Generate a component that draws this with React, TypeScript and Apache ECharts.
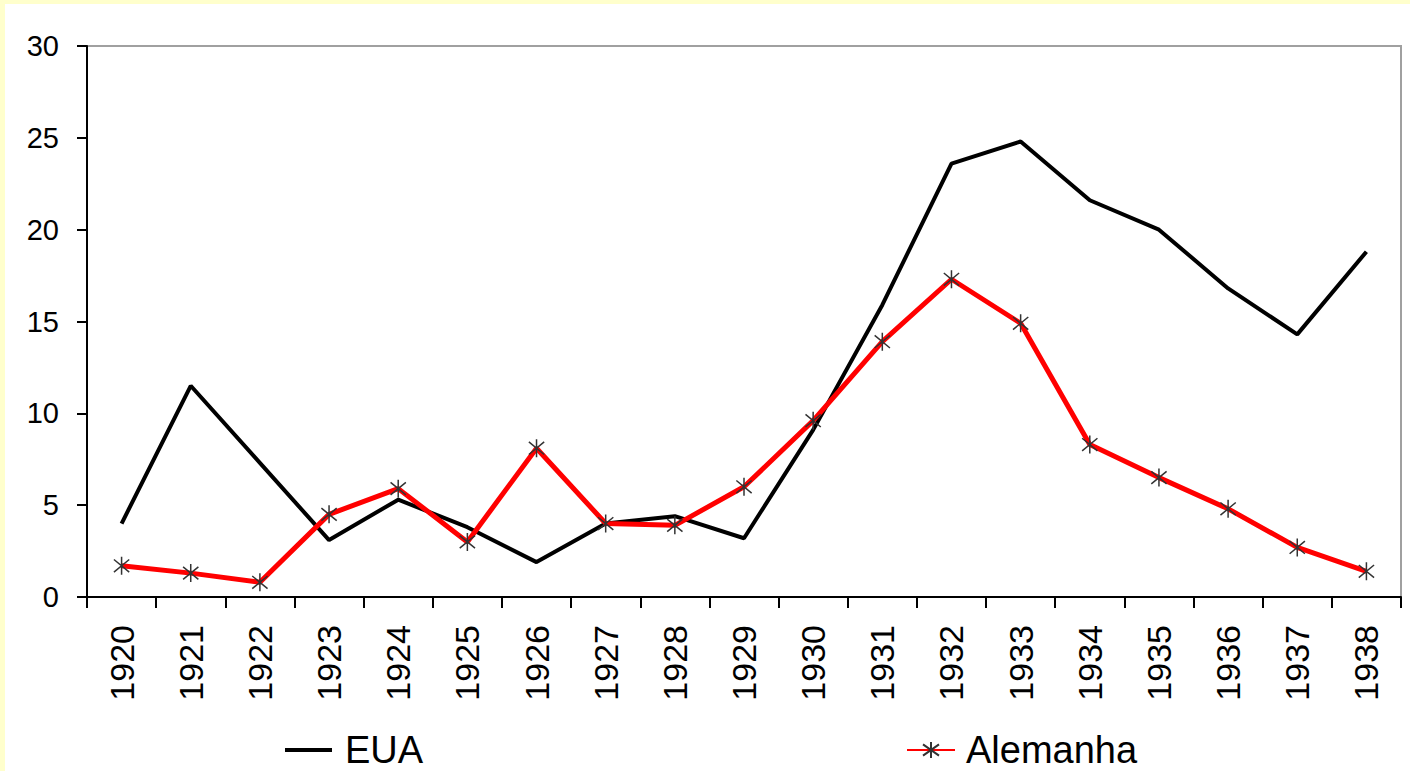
import React, { useEffect, useRef } from "react";
import * as echarts from "echarts";

const years = ["1920","1921","1922","1923","1924","1925","1926","1927","1928","1929","1930","1931","1932","1933","1934","1935","1936","1937","1938"];
const eua = [4.0, 11.5, 7.3, 3.1, 5.3, 3.8, 1.9, 4.0, 4.4, 3.2, 9.1, 15.9, 23.6, 24.8, 21.6, 20.0, 16.8, 14.3, 18.8];
const alemanha = [1.7, 1.3, 0.8, 4.5, 5.9, 3.0, 8.1, 4.0, 3.9, 6.0, 9.6, 13.9, 17.3, 14.9, 8.3, 6.5, 4.8, 2.7, 1.4];
const yTicks = [0, 5, 10, 15, 20, 25, 30];

const star = "path://M10,0 L10,20 M1.5,3 L18.5,17 M1.5,17 L18.5,3";
const FONT = "Liberation Sans, Arial, sans-serif";

export default function App() {
  const ref = useRef<HTMLDivElement>(null);
  useEffect(() => {
    document.body.style.margin = "0";
    const chart = echarts.init(ref.current!, null, { renderer: "svg" });
    chart.setOption({
      animation: false,
      textStyle: { fontFamily: FONT },
      grid: { left: 82, right: 9, top: 42, bottom: 174, show: true, borderColor: "#a0a0a0", borderWidth: 2, containLabel: false },
      legend: [
        {
          data: [{ name: "EUA", icon: "rect" }], left: 275, top: 721, itemWidth: 47, itemHeight: 4,
          textStyle: { fontSize: 38, lineHeight: 40, color: "#000", fontFamily: FONT, padding: [0, 0, 0, 8] },
        },
        {
          data: ["Alemanha"], left: 896, top: 721, itemWidth: 48, itemHeight: 20,
          textStyle: { fontSize: 38, lineHeight: 40, color: "#000", fontFamily: FONT, padding: [0, 0, 0, 6] },
        },
      ],
      xAxis: {
        type: "category",
        data: years,
        boundaryGap: true,
        axisLine: { lineStyle: { color: "#000", width: 2 } },
        axisTick: { show: true, length: 11, alignWithLabel: false, lineStyle: { color: "#000", width: 2 } },
        axisLabel: { rotate: 90, fontSize: 34, color: "#000", margin: 28, interval: 0 },
        splitLine: { show: false },
      },
      yAxis: {
        type: "value",
        min: yTicks[0],
        max: yTicks[yTicks.length - 1],
        interval: 5,
        axisLine: { show: true, lineStyle: { color: "#000", width: 2 } },
        axisTick: { show: true, length: 10, lineStyle: { color: "#000", width: 2 } },
        axisLabel: { fontSize: 29, color: "#000", margin: 28 },
        splitLine: { show: false },
      },
      series: [
        {
          name: "EUA",
          type: "line",
          data: eua,
          symbol: "none",
          lineStyle: { color: "#000", width: 4 },
          itemStyle: { color: "#000" },
        },
        {
          name: "Alemanha",
          type: "line",
          data: alemanha,
          symbol: star,
          symbolSize: 18,
          symbolKeepAspect: true,
          lineStyle: { color: "#ff0000", width: 5 },
          itemStyle: { color: "#ff0000", borderColor: "#333", borderWidth: 1.5 },
        },
      ],
    });
    return () => chart.dispose();
  }, []);
  return (
    <div style={{ position: "fixed", left: 0, top: 0, width: 1410, height: 771, background: "#ffffcc" }}>
      <div ref={ref} style={{ position: "absolute", left: 5, top: 4, width: 1405, height: 767, background: "#fff" }} />
    </div>
  );
}
